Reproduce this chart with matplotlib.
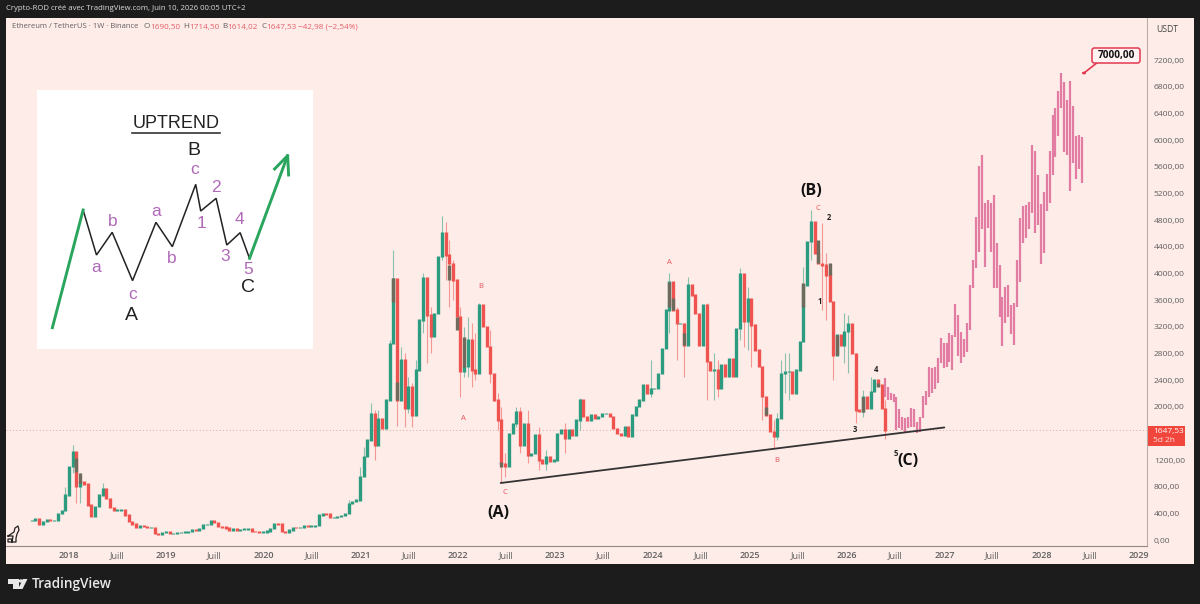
import numpy as np
import pandas as pd
import matplotlib
matplotlib.use("Agg")
import matplotlib.pyplot as plt
import matplotlib.dates as mdates
from matplotlib.lines import Line2D
from matplotlib.patches import Rectangle, FancyBboxPatch, Polygon, Circle

# candle closes, one every two weeks
closes = [290,325,240,275,310,290,290,400,440,675,
          1100,1325,800,875,840,525,360,500,675,775,
          625,490,440,450,450,375,275,240,190,210,
          200,190,190,100,90,110,125,100,100,110,
          115,120,125,150,145,175,235,235,290,260,
          200,195,180,150,175,150,160,165,170,130,
          125,110,120,135,175,250,240,125,120,150,
          190,185,190,220,210,210,220,375,400,390,
          340,340,350,370,400,550,575,600,950,1250,
          1500,1900,1425,1825,1675,2100,2950,3925,2100,2700,
          1975,2300,1875,2550,3300,3940,3375,3050,3400,4250,
          4610,4275,4150,3900,3350,2525,2600,3000,2550,2500,
          3525,3200,2900,2500,2100,1800,1150,1100,1600,1750,
          1925,1425,1750,1275,1300,1575,1200,1150,1250,1175,
          1200,1600,1650,1525,1650,1575,1800,2100,1850,1800,
          1875,1825,1850,1900,1900,1850,1675,1600,1575,1700,
          1550,1875,2000,2100,2325,2200,2275,2275,2500,2875,
          3450,3875,3450,3250,3250,2925,3825,3675,3400,2925,
          3525,2675,2550,2550,2275,2625,2450,2725,2450,3175,
          4000,3275,3625,3225,2850,2600,2150,1875,1625,1560,
          1825,2500,2525,2525,2200,2550,2975,3825,4475,4775,
          4300,4150,4125,3975,3575,2775,3075,2925,3125,3250,
          2800,1950,1925,2150,1975,2225,2400,2325,1975,1647.53]

# the longer wicks
wick_bars = [9,11,12,13,19,85,88,89,91,92,93,96,97,98,99,100,101,102,103,105,106,107,
             110,111,112,113,115,116,117,118,119,120,123,125,126,127,130,131,133,136,
             138,143,147,166,171,173,175,176,181,183,184,190,191,192,193,196,199,200,
             201,202,203,207,209,212,213,215,218,219,221,223,225,229]
wick_tops = [800,1425,1250,1000,850,600,1100,1400,2050,1950,1950,3000,4350,3300,2900,2800,2450,2350,2700,4010,3900,3500,
             4860,4775,4500,4200,3500,3200,3350,3250,3100,3550,3150,2200,2000,1300,2000,2000,1950,1700,
             1350,1750,2125,2700,4000,3500,3250,3950,3550,2800,2700,4075,3650,3800,3500,2600,1800,1900,
             2700,2800,2800,4100,4950,4750,4300,3300,3400,3375,2800,2250,2450,2100]
wick_lows = [450,1000,550,550,700,480,700,1000,1500,1200,1500,2300,3000,1715,2100,1700,1900,1700,2000,3100,2650,2800,
             4200,3900,3500,3600,2150,2450,2450,2300,2400,2500,2350,1650,875,950,1700,1300,1150,1050,
             1050,1300,1650,2150,3100,2700,2450,3300,2100,2100,2150,3000,2900,2850,2600,1800,1375,1500,
             1900,2200,2100,3000,4200,3450,3300,2400,2650,2500,1750,1850,2050,1510]

# grey-brown bodies
dark_bars = [12,13,97,98,112,114,116,126,171,172,175,197,207,211,214,216,223,227]
dark_tops = [1225,1000,3925,2375,4125,3350,3050,1175,3875,3625,3100,2000,3850,4500,4150,3075,2150,2350]
dark_lows = [1025,850,3575,2100,3900,3150,2600,1100,3500,3450,2925,1875,3500,4150,3975,2775,1925,2300]

# pink projection bars
proj_high = [2425,2300,2210,2190,2150,1960,1840,1825,1850,1975,1960,1775,1840,2160,2240,2600,2575,2590,2725,3025,
             2960,2950,3100,3075,3540,3375,3125,3015,3250,3825,4200,4850,5610,5770,5050,5100,5050,5175,4450,4125,
             3640,3800,3825,3525,3550,4200,4835,5010,5025,5070,5920,5835,5470,5040,5220,5485,5840,6375,6475,6740,
             7000,6875,6600,6890,6510,6065,6075,6045]
proj_low = [2150,2100,2100,2075,1650,1675,1650,1625,1675,1700,1700,1600,1625,1825,2025,2140,2200,2260,2350,2650,
            2575,2600,2675,2550,3050,2760,2650,2750,2825,3150,3775,4075,4325,4660,4100,4675,4325,3775,3775,3350,
            2910,3250,3350,3090,2920,3500,3875,4450,4525,4660,4910,4600,4725,4140,4310,4935,5060,5470,5740,6060,
            6475,5825,5770,5240,5660,5420,5560,5350]

price_ticks = list(range(0, 7600, 400))
hidden_tick = 1600  # sits under the last price tag
years = list(range(2018, 2030))

# inset drawing, traced in its own coordinates
zig_x = [160,200,247,308,378,427,497,512,558,590,630,658]
zig_y = [375,510,442,587,412,485,298,378,340,480,443,520]
arrow_in_x = [68,160]
arrow_in_y = [728,375]
arrow_out_x = [658,772]
arrow_out_y = [520,212]
purple_labels = ["a","b","c","a","b","c","1","2","3","4","5"]
purple_x = [200,248,307,378,424,493,513,557,585,628,655]
purple_y = [548,410,628,380,520,255,415,307,515,402,552]
wave_labels = ["A","B","C"]
wave_x = [305,492,652]
wave_y = [693,197,607]

BG = "#feece8"
DARK = "#1c1c1c"
GREEN = "#2b9c7f"
RED = "#ef5350"
GREY_TXT = "#5f5f5f"
UI_FONT = "Open Sans"
BODY_PAD = 12  # keeps flat candles visible, in price units


def px(x, y):
    return x / 1200, 1 - y / 604


def ptext(x, y, s, **kw):
    kw.setdefault("family", UI_FONT)
    kw.setdefault("va", "center")
    return fig.text(*px(x, y), s, **kw)


fig = plt.figure(figsize=(12, 6.04), dpi=100, facecolor=DARK)
fig.add_artist(Rectangle(px(6, 564), 1188 / 1200, 546 / 604, transform=fig.transFigure,
                         facecolor=BG, edgecolor="none", zorder=-1))

ax = fig.add_axes([6 / 1200, 1 - 546 / 604, 1141 / 1200, 528 / 604])
ax.patch.set_alpha(0)

# time scale: 2018-01-01 sits at 69 px and 0.2663 px make a day
origin = mdates.date2num(pd.Timestamp("2018-01-01"))
ax.set_xlim(origin - 63 / 0.2663, origin + 1078 / 0.2663)
ax.set_ylim(-90, 7830)

dates = mdates.date2num(pd.date_range("2017-08-14", periods=len(closes), freq="14D"))
closes_arr = np.array(closes, dtype=float)
opens = np.r_[closes_arr[0], closes_arr[:-1]]
colors = [GREEN if c >= o else RED for o, c in zip(opens, closes_arr)]

ax.axhline(closes[-1], color="#d98a84", lw=0.6, ls=(0, (1, 3)), zorder=1)

wick_x = dates[wick_bars]
wick_c = [colors[i] for i in wick_bars]
ax.vlines(wick_x, wick_lows, wick_tops, colors=wick_c, lw=0.8, alpha=0.55, zorder=2)
ax.vlines(dates, np.minimum(opens, closes_arr) - BODY_PAD, np.maximum(opens, closes_arr) + BODY_PAD,
          colors=colors, lw=2.4, zorder=3)
ax.vlines(dates[dark_bars], dark_lows, dark_tops, colors="#6e6a5c", lw=2.4, zorder=4)

proj_dates = mdates.date2num(pd.date_range("2026-05-22", "2028-06-01", periods=len(proj_high)))
ax.vlines(proj_dates, proj_low, proj_high, colors="#e27ca3", lw=1.6, zorder=3)

# support line under the (A), B and (C) lows
line_dates = mdates.date2num([pd.Timestamp("2022-06-10"), pd.Timestamp("2027-01-01")])
ax.plot(line_dates, [855, 1688], color="#333333", lw=1.3, zorder=5, solid_capstyle="round")

xticks, xlabels = [], []
for y in years:
    xticks.append(mdates.date2num(pd.Timestamp(f"{y}-01-01")))
    xlabels.append(str(y))
    xticks.append(mdates.date2num(pd.Timestamp(f"{y}-07-01")))
    xlabels.append("Juill")
ax.set_xticks(xticks[:-1])
ax.set_xticklabels(xlabels[:-1], fontsize=6.5, color=GREY_TXT, family=UI_FONT)
ax.yaxis.tick_right()
ax.set_yticks(price_ticks)
ax.set_yticklabels(["" if p == hidden_tick else f"{p},00" for p in price_ticks],
                   fontsize=6.1, color=GREY_TXT, family=UI_FONT)
ax.tick_params(length=0)
ax.tick_params(axis="x", pad=3.5)
ax.tick_params(axis="y", pad=5)
for s in ["top", "left"]:
    ax.spines[s].set_visible(False)
ax.spines["bottom"].set_color("#8f8886")
ax.spines["right"].set_color("#b8aeab")
for lab in ax.get_xticklabels():
    if lab.get_text() != "Juill":
        lab.set_fontweight("semibold")

# header and legend
ptext(6, 9, "Crypto-ROD créé avec TradingView.com, Juin 10, 2026 00:05 UTC+2", fontsize=5.55, color="#dcdcdc")
ptext(12, 27, "Ethereum / TetherUS · 1W · Binance", fontsize=5.5, color=GREY_TXT)
for x, lab, val_x, val in [(144, "O", 150, "1690,50"), (183, "H", 189, "1714,50"),
                           (222, "B", 227, "1614,02"), (261, "C", 266, "1647,53")]:
    ptext(x, 27, lab, fontsize=5.9, color=GREY_TXT)
    ptext(val_x, 27, val, fontsize=5.9, color="#e4606a")
ptext(298, 27, "−42,98 (−2,54%)", fontsize=5.9, color="#e4606a")
ptext(1156, 29, "USDT", fontsize=6.2, color="#444444")

# last price tag
fig.add_artist(Rectangle(px(1148, 446), 37 / 1200, 20 / 604, transform=fig.transFigure,
                         facecolor="#f0463c", edgecolor="none", zorder=5))
ptext(1153, 431, "1647,53", fontsize=6.0, color="white", zorder=6)
ptext(1153, 440.5, "5d 2h", fontsize=6.0, color="#ffe3df", zorder=6)

# target callout
fig.add_artist(Line2D([px(1084, 0)[0], px(1098, 0)[0]], [px(0, 73)[1], px(0, 62)[1]],
                      color="#e2384f", lw=1.2, marker="", zorder=5))
fig.add_artist(Circle(px(1084, 73), 0.0011, transform=fig.transFigure, color="#e2384f", zorder=5))
fig.add_artist(FancyBboxPatch(px(1092, 63), 48 / 1200, 15 / 604, transform=fig.transFigure,
                              boxstyle="round,pad=0,rounding_size=0.002", mutation_aspect=2,
                              facecolor="#fff4f2", edgecolor="#e2384f", lw=1.1, zorder=5))
ptext(1116, 55.5, "7000,00", fontsize=7.2, fontweight="bold", color="#111111", ha="center", zorder=6)

# wave labels on the chart
for x, y, s in [(498, 513, "(A)"), (811, 191, "(B)"), (908, 461, "(C)")]:
    ptext(x, y, s, fontsize=11.5, fontweight="bold", color="#111111", ha="center")
for x, y, s in [(481, 286, "B"), (463, 418, "A"), (505, 493, "C"), (669, 262, "A"), (777, 460, "B"), (818, 209, "C")]:
    ptext(x, y, s, fontsize=5.5, color="#e8505b", ha="center")
for x, y, s in [(829, 218, "2"), (820, 302, "1"), (855, 430, "3"), (876, 369, "4"), (896, 453, "5")]:
    ptext(x, y, s, fontsize=5.5, fontweight="bold", color="#222222", ha="center")

# inset with the textbook pattern
inset = fig.add_axes([37 / 1200, 1 - 349 / 604, 276 / 1200, 259 / 604], zorder=3)
inset.set_xlim(22, 848)
inset.set_ylim(792, 15)
inset.set_facecolor("white")
inset.axis("off")
inset.add_patch(Rectangle((22, 15), 826, 777, facecolor="white", edgecolor="none"))
inset.plot(zig_x, zig_y, color="#222222", lw=1.1, solid_joinstyle="miter")
inset.plot(arrow_in_x, arrow_in_y, color="#2aa55e", lw=2.1)
inset.plot(arrow_out_x, arrow_out_y, color="#2aa55e", lw=2.1)
inset.plot([733, 772, 775], [252, 212, 270], color="#2aa55e", lw=2.1)
inset.text(437, 115, "UPTREND", fontsize=13, family="Liberation Sans", color="#222222", ha="center", va="center")
inset.plot([307, 570], [144, 144], color="#222222", lw=1.1)
for s, x, y in zip(purple_labels, purple_x, purple_y):
    inset.text(x, y, s, fontsize=12.5, family="Liberation Sans", color="#b069b8", ha="center", va="center")
for s, x, y in zip(wave_labels, wave_x, wave_y):
    inset.text(x, y, s, fontsize=14, family="Liberation Sans", color="#222222", ha="center", va="center")

# little cat from the drawing toolbar
cat_x = [8, 14, 15, 18, 19, 17, 16, 16, 12, 12, 8, 8, 12, 13, 8]
cat_y = [536, 532, 528, 526, 530, 534, 538, 542, 542, 539, 539, 542, 542, 536, 536]
fig.add_artist(Line2D([c / 1200 for c in cat_x], [1 - c / 604 for c in cat_y], color="#222222", lw=0.9))

# TradingView logo
fig.add_artist(Polygon([px(8, 579), px(19, 579), px(19, 589), px(13, 589), px(13, 584), px(8, 584)],
                       transform=fig.transFigure, facecolor="#e8e8e8", edgecolor="none"))
fig.add_artist(Circle(px(21, 581), 0.0016, transform=fig.transFigure, color="#e8e8e8"))
fig.add_artist(Polygon([px(23, 579), px(27.5, 579), px(22.5, 589), px(18, 589)],
                       transform=fig.transFigure, facecolor="#e8e8e8", edgecolor="none"))
ptext(32, 584, "TradingView", fontsize=9.8, fontweight="semibold", color="#e8e8e8")

fig.savefig("out.png", dpi=100, facecolor=fig.get_facecolor())
